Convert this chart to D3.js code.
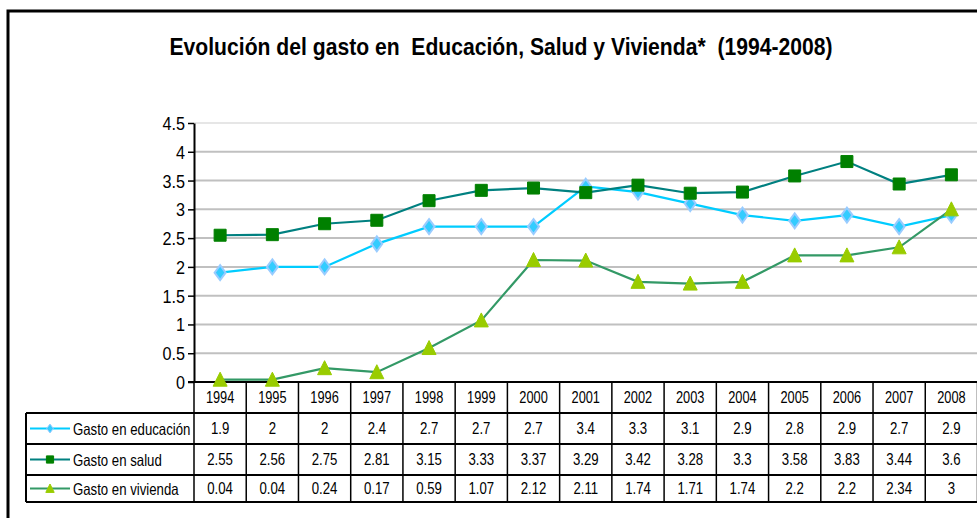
<!DOCTYPE html>
<html>
<head>
<meta charset="utf-8">
<script src="https://cdn.jsdelivr.net/npm/d3@7"></script>
<style>
  body { margin: 0; background: #fff; }
  svg { display: block; font-family: "Liberation Sans", Arial, sans-serif; }
</style>
</head>
<body>
<svg width="977" height="518"></svg>
<script>
// data
var years = ["1994", "1995", "1996", "1997", "1998", "1999", "2000", "2001",
             "2002", "2003", "2004", "2005", "2006", "2007", "2008"];
var educacion = [1.9, 2, 2, 2.4, 2.7, 2.7, 2.7, 3.4, 3.3, 3.1, 2.9, 2.8, 2.9, 2.7, 2.9];
var salud = [2.55, 2.56, 2.75, 2.81, 3.15, 3.33, 3.37, 3.29, 3.42, 3.28, 3.3, 3.58, 3.83, 3.44, 3.6];
var vivienda = [0.04, 0.04, 0.24, 0.17, 0.59, 1.07, 2.12, 2.11, 1.74, 1.71, 1.74, 2.2, 2.2, 2.34, 3];
var yTicks = [0, 0.5, 1, 1.5, 2, 2.5, 3, 3.5, 4, 4.5];
var seriesNames = ["Gasto en educación", "Gasto en salud", "Gasto en vivienda"];

var series = [
    { name: seriesNames[0], values: educacion, line: "#00ccff", fill: "#33ccff", stroke: "#99ccff", marker: "diamond" },
    { name: seriesNames[1], values: salud, line: "#008080", fill: "#008000", stroke: "#008000", marker: "square" },
    { name: seriesNames[2], values: vivienda, line: "#339966", fill: "#99cc00", stroke: "#99cc00", marker: "triangle" }
];

var svg = d3.select("svg");

// condensed look: the original uses a narrow face, so squeeze horizontally
function narrowText(parent, x, y, str, size, anchor) {
    return parent.append("g")
        .attr("transform", "translate(" + x + "," + y + ") scale(0.8,1)")
        .append("text")
        .attr("text-anchor", anchor || "middle")
        .attr("font-size", size)
        .attr("fill", "#000")
        .text(str);
}

// outer frame (cut off on the right and bottom)
svg.append("rect")
    .attr("x", 8).attr("y", 11)
    .attr("width", 1000).attr("height", 540)
    .attr("fill", "none").attr("stroke", "#000").attr("stroke-width", 3);

// title
svg.append("text")
    .attr("x", 501).attr("y", 55)
    .attr("text-anchor", "middle")
    .attr("font-weight", "bold")
    .attr("font-size", 24)
    .attr("textLength", 663)
    .attr("lengthAdjust", "spacingAndGlyphs")
    .style("white-space", "pre")
    .text("Evolución del gasto en  Educación, Salud y Vivienda*  (1994-2008)");

var x = d3.scaleBand().domain(years).range([194, 977.5]);
var y = d3.scaleLinear().domain([0, 4.5]).range([382, 123]);

// gridlines
svg.append("g")
    .selectAll("line")
    .data(yTicks.slice(1))
    .enter().append("line")
    .attr("x1", 194).attr("x2", 977)
    .attr("y1", function (d) { return y(d); })
    .attr("y2", function (d) { return y(d); })
    .attr("stroke", function (d) { return d === 4.5 ? "#e6e6e6" : "#c0c0c0"; })
    .attr("stroke-width", 2);

// y axis
var yAxis = svg.append("g")
    .attr("transform", "translate(194,0)")
    .call(d3.axisLeft(y).tickValues(yTicks).tickSize(6).tickSizeOuter(0)
        .tickFormat(function (d) { return String(d); }));
yAxis.select(".domain").attr("stroke", "#000").attr("stroke-width", 2);
yAxis.selectAll(".tick line").attr("stroke", "#000").attr("stroke-width", 1.5);
yAxis.selectAll(".tick text")
    .attr("font-family", "Liberation Sans, Arial, sans-serif")
    .attr("font-size", 18).attr("fill", "#000").attr("x", -10).attr("dy", "0.36em")
    .attr("transform", "scale(0.9,1)");

// data table
var rowTop = [382, 413, 444, 475];
var rowBottom = [413, 444, 475, 502];
var table = svg.append("g").attr("class", "table");

// category dividers from the axis down through the table
table.selectAll("line.hdr")
    .data(years.concat(["end"]))
    .enter().append("line")
    .attr("x1", function (d, i) { return i < years.length ? x(d) : x.range()[1]; })
    .attr("x2", function (d, i) { return i < years.length ? x(d) : x.range()[1]; })
    .attr("y1", rowTop[0]).attr("y2", rowBottom[3])
    .attr("stroke", "#000").attr("stroke-width", 1.5);

// horizontal table rules
[rowBottom[0], rowBottom[1], rowBottom[2], rowBottom[3]].forEach(function (yy) {
    table.append("line")
        .attr("x1", 26).attr("x2", 977)
        .attr("y1", yy).attr("y2", yy)
        .attr("stroke", "#000").attr("stroke-width", 2);
});
table.append("line")
    .attr("x1", 26).attr("x2", 26)
    .attr("y1", rowBottom[0]).attr("y2", rowBottom[3])
    .attr("stroke", "#000").attr("stroke-width", 2);

// x axis line
svg.append("line")
    .attr("x1", 188).attr("x2", 977)
    .attr("y1", 382).attr("y2", 382)
    .attr("stroke", "#000").attr("stroke-width", 2);

years.forEach(function (d) {
    narrowText(table, x(d) + x.bandwidth() / 2, (rowTop[0] + rowBottom[0]) / 2 + 5, d, 16);
});

series.forEach(function (s, r) {
    var cy = (rowTop[r + 1] + rowBottom[r + 1]) / 2;
    s.values.forEach(function (v, i) {
        narrowText(table, x(years[i]) + x.bandwidth() / 2, cy + 5.5, String(v), 16.5);
    });

    // legend key
    table.append("line")
        .attr("x1", 30).attr("x2", 70)
        .attr("y1", cy).attr("y2", cy)
        .attr("stroke", s.line).attr("stroke-width", 2);
    table.append("path")
        .attr("d", markerPath(s.marker, 0.6))
        .attr("transform", "translate(50," + cy + ")")
        .attr("fill", s.fill).attr("stroke", s.stroke).attr("stroke-width", 1);
    narrowText(table, 73, cy + 6, s.name, 16.5, "start");
});

function markerPath(kind, k) {
    k = k || 1;
    if (kind === "diamond") {
        return "M0," + (-7.5 * k) + "L" + (5.5 * k) + ",0L0," + (7.5 * k) + "L" + (-5.5 * k) + ",0Z";
    }
    if (kind === "square") {
        var h = 6 * k;
        return "M" + (-h) + "," + (-h) + "H" + h + "V" + h + "H" + (-h) + "Z";
    }
    return "M0," + (-7.5 * k) + "L" + (7 * k) + "," + (6.5 * k) + "L" + (-7 * k) + "," + (6.5 * k) + "Z";
}

// lines and markers
var line = d3.line()
    .x(function (d, i) { return x(years[i]) + x.bandwidth() / 2; })
    .y(function (d) { return y(d); });

var plot = svg.append("g");
series.forEach(function (s) {
    plot.append("path")
        .datum(s.values)
        .attr("d", line)
        .attr("fill", "none")
        .attr("stroke", s.line)
        .attr("stroke-width", 2.2);
});
series.forEach(function (s) {
    plot.append("g").selectAll("path")
        .data(s.values)
        .enter().append("path")
        .attr("d", markerPath(s.marker, 1))
        .attr("transform", function (d, i) {
            return "translate(" + (x(years[i]) + x.bandwidth() / 2) + "," + y(d) + ")";
        })
        .attr("fill", s.fill)
        .attr("stroke", s.stroke)
        .attr("stroke-width", s.marker === "diamond" ? 2 : 1);
});
</script>
</body>
</html>
